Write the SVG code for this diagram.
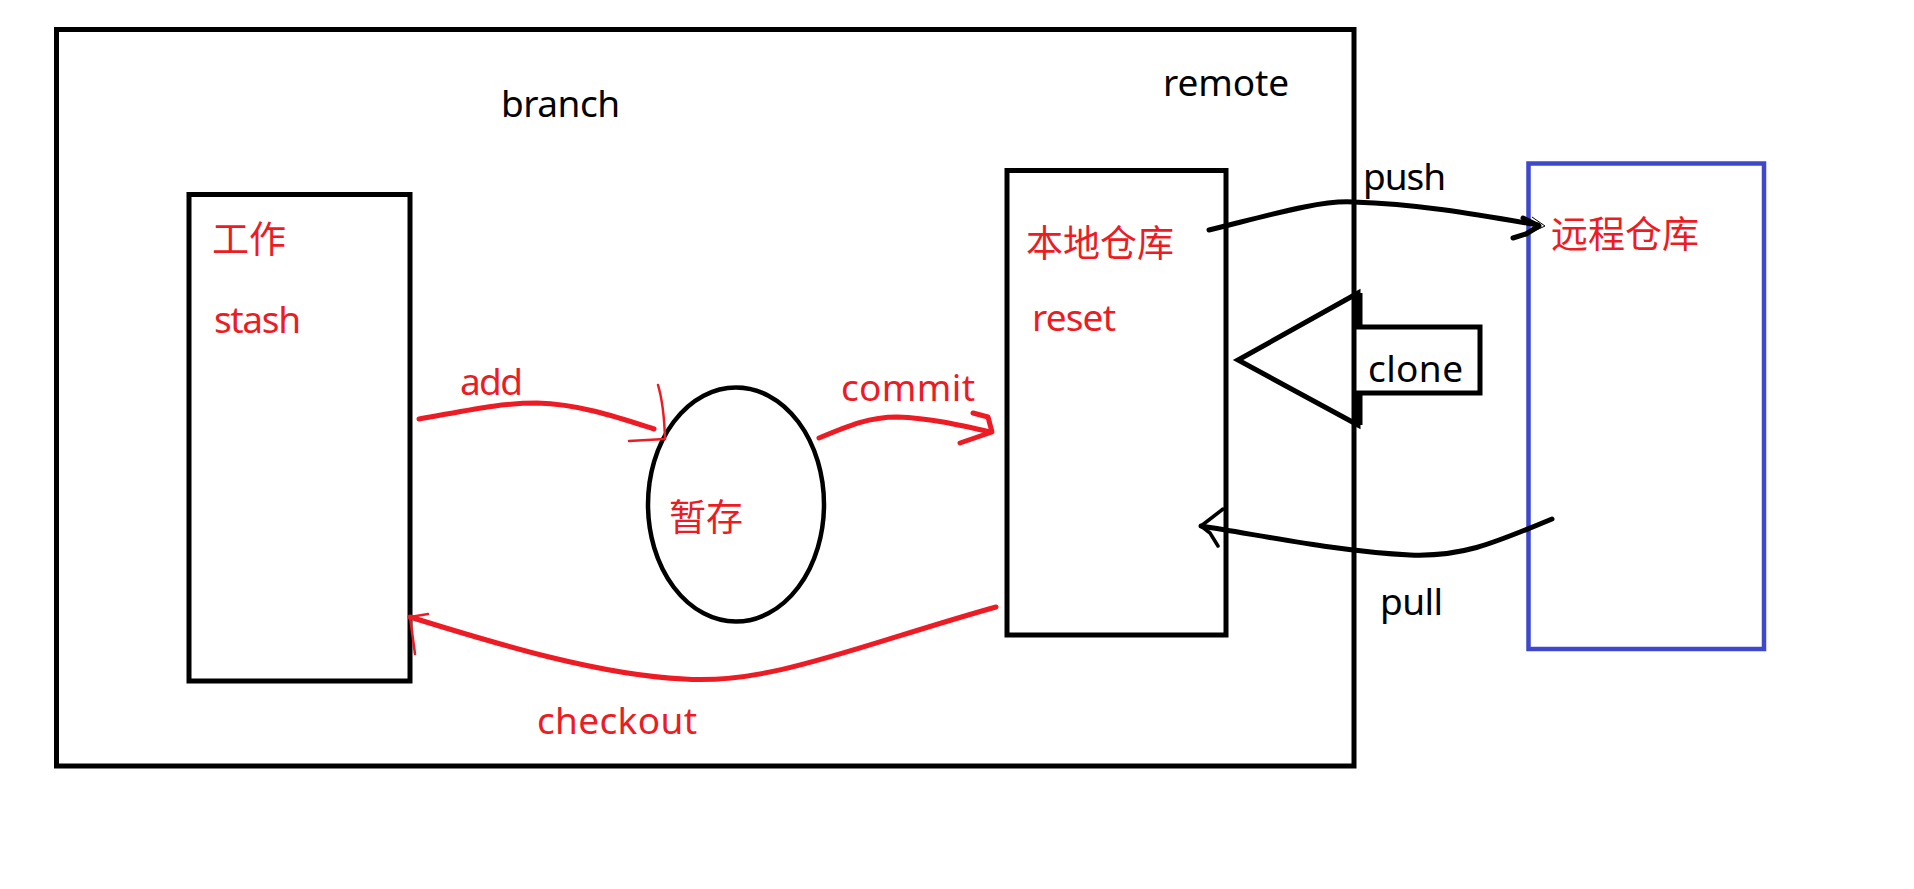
<svg xmlns="http://www.w3.org/2000/svg" width="1914" height="889" viewBox="0 0 1914 889">
<style>
.box{fill:none;stroke:#000;stroke-width:5}
.blue{fill:none;stroke:#3f48cc;stroke-width:4.5}
.lat{font-family:"Noto Sans","Liberation Sans",sans-serif;font-size:37px}
.cjk{font-family:"Noto Sans CJK SC",sans-serif;font-size:37px}
.red{fill:#ed1c24}
.blk{fill:#000}
.rl{fill:none;stroke:#ed1c24;stroke-width:5;stroke-linecap:round}
.rt{fill:none;stroke:#ed1c24;stroke-width:2.5;stroke-linecap:round}
.bl{fill:none;stroke:#000;stroke-width:5;stroke-linecap:round}
.bt{fill:none;stroke:#000;stroke-width:3.5;stroke-linecap:round}
</style>
<rect width="1914" height="889" fill="#fff"/>
<g id="container">
<rect class="box" x="56.5" y="29.5" width="1297.5" height="736.5"/>
<text class="lat blk" x="501" y="117" textLength="119">branch</text>
<text class="lat blk" x="1163" y="96" textLength="126">remote</text>
</g>
<g id="working">
<rect class="box" x="189" y="194.5" width="221" height="486.5"/>
<text class="cjk red" x="212" y="253">工作</text>
<text class="lat red" x="214" y="333" textLength="87">stash</text>
</g>
<g id="staging">
<ellipse cx="736" cy="504.5" rx="88" ry="117" fill="none" stroke="#000" stroke-width="4.5"/>
<text class="cjk red" x="669" y="531">暂存</text>
</g>
<g id="local">
<rect class="box" x="1007" y="170.5" width="219" height="464.5"/>
<text class="cjk red" x="1026" y="257">本地仓库</text>
<text class="lat red" x="1032" y="331" textLength="84">reset</text>
</g>
<g id="remote-repo">
<rect class="blue" x="1528.5" y="163.5" width="235.5" height="485.5"/>
<text class="cjk red" x="1551" y="248">远程仓库</text>
</g>
<g id="connectors">
<path class="rl" d="M419,419 C470,410 500,403 537,403 C580,404 620,418 654,429"/>
<path class="rt" d="M658,385 Q664,405 665,439 M629,441 L665,439"/>
<text class="lat red" x="460" y="395" textLength="63">add</text>
<path class="rl" d="M819,438 C850,425 870,417 897,417 C930,418 960,425 990,432"/>
<path class="rl" d="M973,413 L988,417 L992,432 L960,443" stroke-width="4" stroke-linejoin="round"/>
<text class="lat red" x="841" y="401" textLength="134">commit</text>
<path class="rl" d="M996,607 C860,645 770,685 684,679 C600,675 500,645 410,617"/>
<path class="rt" d="M428,614 L410,617 L415,654" stroke-width="3"/>
<text class="lat red" x="537" y="734" textLength="160">checkout</text>
<path class="bl" d="M1209,230 C1270,215 1320,200 1353,202 C1420,204 1480,215 1538,225"/>
<path class="bl" d="M1523,218 L1539,226 L1526,234 L1513,238" stroke-linejoin="round"/>
<path d="M1532,217 L1545,226 L1530,233" fill="none" stroke="#000" stroke-width="1"/>
<text class="lat blk" x="1363" y="190" textLength="83">push</text>
<path class="bl" d="M1552,519 C1490,545 1460,557 1410,555 C1340,552 1260,535 1201,526"/>
<path class="bt" d="M1223,509 L1201,526 L1210,533 L1218,546" stroke-linejoin="round"/>
<text class="lat blk" x="1380" y="615" textLength="63">pull</text>
<g id="clone">
<path d="M1358,293 L1238,360 L1358,425 L1358,393 L1480,393 L1480,327 L1358,327 Z" fill="none" stroke="#000" stroke-width="5" stroke-linejoin="miter"/>
<path d="M1359,293 L1359,327 M1359,393 L1359,425" stroke="#000" stroke-width="7"/>
<text class="lat blk" x="1368" y="382" textLength="95">clone</text>
</g>
</g>
</svg>
